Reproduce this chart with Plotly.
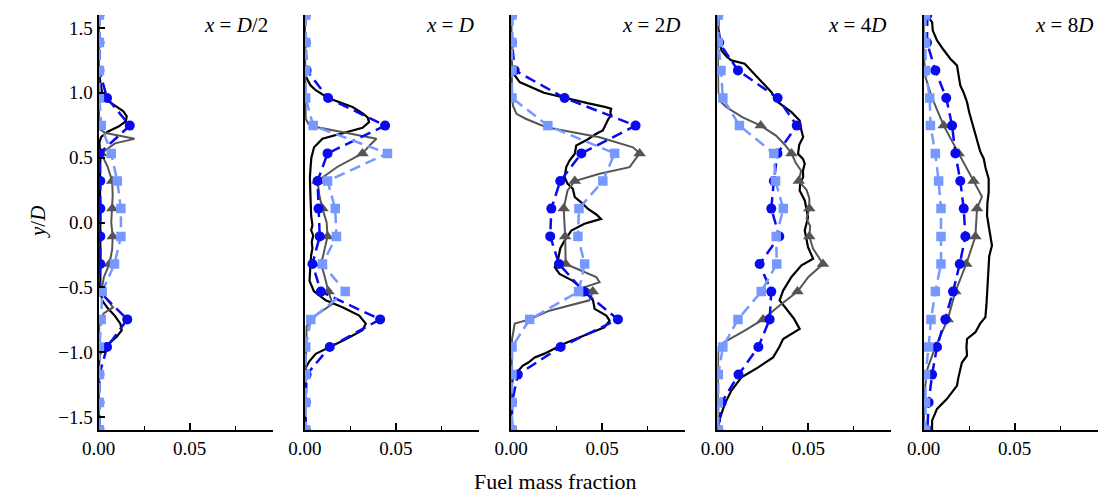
import plotly.graph_objects as go

# ---------------- data ----------------
PANEL_TITLES = ["<i>x</i> = <i>D</i>/2", "<i>x</i> = <i>D</i>", "<i>x</i> = 2<i>D</i>",
                "<i>x</i> = 4<i>D</i>", "<i>x</i> = 8<i>D</i>"]
Y_GRID = [1.6, 1.387, 1.173, 0.96, 0.747, 0.533, 0.32, 0.107, -0.107, -0.32,
          -0.533, -0.747, -0.96, -1.173, -1.387, -1.6]
X_TICKS = [0.0, 0.05]
X_TICK_TEXT = ["0.00", "0.05"]
X_MINOR = [0.025, 0.075]
Y_TICKS = [-1.5, -1.0, -0.5, 0.0, 0.5, 1.0, 1.5]
Y_TICK_TEXT = ["\u22121.5", "\u22121.0", "\u22120.5", "0.0", "0.5", "1.0", "1.5"]

# blue circles (dashed) on Y_GRID
BLUE_1 = [0.0005, 0.0005, 0.0005, 0.0047, 0.0172, 0.0005, 0.001, 0.001, 0.001, 0.001, 0.0005, 0.0158, 0.0047, 0.0005, 0.0005, 0.0005]
BLUE_2 = [0.0005, 0.0005, 0.001, 0.0128, 0.0441, 0.0125, 0.0070, 0.0075, 0.0082, 0.0042, 0.0088, 0.0414, 0.0137, 0.001, 0.0005, 0.0005]
BLUE_3 = [0.0005, 0.0005, 0.002, 0.0294, 0.0684, 0.0386, 0.027, 0.0221, 0.0215, 0.0263, 0.040, 0.0587, 0.0272, 0.0037, 0.0005, 0.0005]
BLUE_4 = [0.0005, 0.001, 0.0113, 0.0331, 0.0436, 0.033, 0.031, 0.0296, 0.034, 0.0232, 0.0296, 0.0287, 0.0225, 0.0116, 0.0024, 0.0005]
BLUE_5 = [0.002, 0.0018, 0.0064, 0.0124, 0.0156, 0.0174, 0.0201, 0.022, 0.0229, 0.0198, 0.0161, 0.0119, 0.0073, 0.0046, 0.0027, 0.002]

# light-blue squares (dashed) on Y_GRID
LIGHT_1 = [0.0005, 0.0005, 0.0005, 0.0005, 0.0015, 0.007, 0.0103, 0.0123, 0.0123, 0.0088, 0.002, 0.0015, 0.0005, 0.0005, 0.0005, 0.0005]
LIGHT_2 = [0.0005, 0.0005, 0.0005, 0.0005, 0.0046, 0.0454, 0.0125, 0.0167, 0.0174, 0.0097, 0.0222, 0.0033, 0.0005, 0.0005, 0.0005, 0.0005]
LIGHT_3 = [0.0005, 0.0005, 0.0005, 0.0005, 0.0202, 0.0569, 0.0504, 0.0373, 0.0367, 0.0404, 0.0371, 0.0102, 0.0005, 0.0005, 0.0005, 0.0005]
LIGHT_4 = [0.0005, 0.0005, 0.002, 0.003, 0.0121, 0.031, 0.0319, 0.0362, 0.0323, 0.0326, 0.0241, 0.0113, 0.003, 0.0005, 0.0005, 0.0005]
LIGHT_5 = [0.001, 0.001, 0.001, 0.0033, 0.0037, 0.0064, 0.0082, 0.0095, 0.0095, 0.0095, 0.0064, 0.004, 0.0027, 0.001, 0.001, 0.001]

# gray line (y, value) and gray triangle markers (y, value)
GRAY_1 = [(1.6, 0), (1.0, 0), (0.72, 0.0005), (0.69, 0.004), (0.665, 0.013), (0.645, 0.0198), (0.61, 0.009),
          (0.533, 0.0015), (0.43, 0.005), (0.32, 0.0075), (0.21, 0.0078), (0.107, 0.0076), (0.0, 0.007),
          (-0.107, 0.0078), (-0.21, 0.0075), (-0.32, 0.006), (-0.42, 0.003), (-0.533, 0.0015), (-0.6, 0.005),
          (-0.655, 0.008), (-0.70, 0.003), (-0.75, 0.0005), (-1.0, 0), (-1.6, 0)]
GRAY_2 = [(1.6, 0), (0.8, 0.0005), (0.76, 0.002), (0.735, 0.007), (0.646, 0.0394), (0.60, 0.036), (0.533, 0.0317),
          (0.43, 0.018), (0.32, 0.007), (0.21, 0.008), (0.107, 0.0097), (0.0, 0.012), (-0.107, 0.0125),
          (-0.21, 0.011), (-0.32, 0.009), (-0.42, 0.011), (-0.533, 0.013), (-0.627, 0.0152), (-0.717, 0.006),
          (-0.8, 0.001), (-1.6, 0)]
GRAY_3 = [(1.6, 0), (1.0, 0.0005), (0.90, 0.001), (0.838, 0.003), (0.80, 0.008), (0.735, 0.0193), (0.658, 0.0486),
          (0.58, 0.067), (0.533, 0.0706), (0.427, 0.0651), (0.376, 0.0486), (0.32, 0.035), (0.247, 0.031),
          (0.107, 0.0289), (-0.107, 0.0297), (-0.32, 0.030), (-0.42, 0.0468), (-0.46, 0.0486), (-0.50, 0.040),
          (-0.533, 0.0449), (-0.60, 0.043), (-0.68, 0.021), (-0.747, 0.0102), (-0.78, 0.002), (-0.9, 0.0005), (-1.6, 0)]
GRAY_4 = [(1.6, 0), (1.0, 0.0005), (0.93, 0.002), (0.89, 0.0048), (0.81, 0.0139), (0.747, 0.0238), (0.67, 0.0322),
          (0.60, 0.037), (0.533, 0.0407), (0.46, 0.043), (0.40, 0.046), (0.32, 0.0447), (0.25, 0.049),
          (0.19, 0.0505), (0.107, 0.0505), (0.03, 0.049), (-0.03, 0.051), (-0.107, 0.0505), (-0.2, 0.0525),
          (-0.32, 0.058), (-0.42, 0.050), (-0.533, 0.044), (-0.65, 0.0333), (-0.747, 0.0251), (-0.833, 0.015),
          (-0.92, 0.004), (-0.96, 0.0005), (-1.6, 0)]
GRAY_5 = [(1.6, 0), (1.3, 0), (1.12, 0.001), (0.96, 0.0046), (0.747, 0.011), (0.533, 0.0192), (0.32, 0.0274),
          (0.2, 0.032), (0.107, 0.0293), (-0.107, 0.0284), (-0.32, 0.0234), (-0.533, 0.0174), (-0.747, 0.0132),
          (-0.96, 0.0064), (-1.13, 0.002), (-1.3, 0.0005), (-1.6, 0)]

GRAY_MK_1 = [(0.533, 0.0015), (0.32, 0.0075), (0.107, 0.0076), (-0.107, 0.0078), (-0.32, 0.006), (-0.533, 0.0015)]
GRAY_MK_2 = [(0.533, 0.0317), (0.32, 0.007), (0.107, 0.0097), (-0.107, 0.0125), (-0.32, 0.009), (-0.533, 0.013)]
GRAY_MK_3 = [(0.533, 0.0706), (0.32, 0.035), (0.107, 0.0289), (-0.107, 0.0297), (-0.32, 0.030), (-0.533, 0.0449)]
GRAY_MK_4 = [(0.747, 0.0238), (0.533, 0.0407), (0.32, 0.0447), (0.107, 0.0505), (-0.107, 0.0505), (-0.32, 0.058),
             (-0.533, 0.044), (-0.747, 0.0251)]
GRAY_MK_5 = [(0.747, 0.011), (0.533, 0.0192), (0.32, 0.0274), (0.107, 0.0293), (-0.107, 0.0284), (-0.32, 0.0234),
             (-0.533, 0.0174), (-0.747, 0.0132), (-0.96, 0.0064)]

# black solid line (y, value)
BLACK_1 = [(1.6, 0), (1.2, 0), (1.08, 0.001), (1.0, 0.002), (0.93, 0.006), (0.86, 0.0135), (0.82, 0.0155),
           (0.78, 0.015), (0.74, 0.011), (0.70, 0.005), (0.66, 0.0015), (0.62, 0.0005), (0.5, 0.001), (0.3, 0.0008),
           (0.0, 0.001), (-0.3, 0.0008), (-0.5, 0.001), (-0.6, 0.002), (-0.66, 0.005), (-0.72, 0.009),
           (-0.78, 0.012), (-0.83, 0.0128), (-0.88, 0.010), (-0.93, 0.006), (-0.98, 0.002), (-1.03, 0.0005),
           (-1.2, 0), (-1.6, 0)]
BLACK_2 = [(1.6, 0), (1.2, 0), (1.12, 0.0008), (1.06, 0.003), (1.02, 0.006), (0.96, 0.0128), (0.89, 0.0262),
           (0.84, 0.032), (0.81, 0.0345), (0.774, 0.0353), (0.73, 0.0317), (0.697, 0.0225), (0.646, 0.0097),
           (0.58, 0.0051), (0.50, 0.0036), (0.45, 0.0033), (0.35, 0.0028), (0.25, 0.003), (0.15, 0.0033),
           (0.05, 0.0035), (-0.02, 0.0042), (-0.06, 0.0035), (-0.1, 0.0046), (-0.15, 0.0038), (-0.2, 0.0042),
           (-0.25, 0.0035), (-0.35, 0.003), (-0.45, 0.0026), (-0.53, 0.005), (-0.60, 0.0115), (-0.653, 0.0207),
           (-0.718, 0.0299), (-0.78, 0.0335), (-0.83, 0.0317), (-0.90, 0.0225), (-0.96, 0.0137), (-1.013, 0.006),
           (-1.07, 0.0025), (-1.12, 0.0005), (-1.2, 0), (-1.6, 0)]
BLACK_3 = [(1.6, 0), (1.25, 0), (1.155, 0.001), (1.083, 0.0047), (1.0, 0.018), (0.96, 0.0294), (0.92, 0.042),
           (0.89, 0.052), (0.877, 0.055), (0.85, 0.0545), (0.826, 0.055), (0.80, 0.0535), (0.77, 0.0525),
           (0.71, 0.0504), (0.684, 0.0468), (0.64, 0.042), (0.594, 0.0358), (0.53, 0.035), (0.478, 0.0321),
           (0.427, 0.0303), (0.35, 0.0294), (0.30, 0.031), (0.26, 0.0339), (0.195, 0.035), (0.15, 0.039),
           (0.106, 0.0421), (0.06, 0.047), (0.028, 0.0494), (-0.01, 0.0403), (-0.062, 0.0331), (-0.139, 0.0294),
           (-0.2, 0.027), (-0.293, 0.0257), (-0.345, 0.024), (-0.396, 0.0266), (-0.45, 0.034), (-0.525, 0.0403),
           (-0.60, 0.045), (-0.666, 0.0459), (-0.718, 0.0523), (-0.756, 0.0541), (-0.808, 0.0513),
           (-0.859, 0.0421), (-0.93, 0.030), (-1.013, 0.018), (-1.04, 0.013), (-1.08, 0.0095), (-1.103, 0.0065),
           (-1.19, 0.001), (-1.3, 0), (-1.6, 0)]
BLACK_4 = [(1.6, 0), (1.5, 0.0005), (1.40, 0.0015), (1.327, 0.0022), (1.28, 0.005), (1.25, 0.0077), (1.224, 0.015),
           (1.18, 0.018), (1.121, 0.0224), (1.06, 0.026), (1.005, 0.0297), (0.928, 0.0333), (0.851, 0.0407),
           (0.787, 0.0452), (0.72, 0.046), (0.658, 0.0471), (0.60, 0.045), (0.53, 0.0443), (0.49, 0.047),
           (0.453, 0.048), (0.40, 0.047), (0.35, 0.0471), (0.30, 0.0455), (0.247, 0.0452), (0.17, 0.048),
           (0.10, 0.049), (0.04, 0.0498), (-0.062, 0.048), (-0.12, 0.049), (-0.19, 0.0498), (-0.28, 0.0526),
           (-0.33, 0.0462), (-0.42, 0.0407), (-0.525, 0.0361), (-0.60, 0.0342), (-0.653, 0.037), (-0.74, 0.042),
           (-0.82, 0.0452), (-0.898, 0.0361), (-0.96, 0.034), (-1.04, 0.0306), (-1.117, 0.0224),
           (-1.194, 0.0132), (-1.296, 0.0077), (-1.40, 0.004), (-1.515, 0.0013), (-1.6, 0)]
BLACK_5 = [(1.6, 0.0015), (1.545, 0.0046), (1.48, 0.005), (1.404, 0.0073), (1.33, 0.011), (1.263, 0.0146),
           (1.211, 0.0183), (1.15, 0.019), (1.057, 0.0201), (1.0, 0.022), (0.928, 0.0238), (0.85, 0.025),
           (0.774, 0.0265), (0.70, 0.028), (0.62, 0.0293), (0.55, 0.031), (0.492, 0.033), (0.42, 0.034),
           (0.337, 0.0357), (0.234, 0.0357), (0.15, 0.035), (0.054, 0.0348), (-0.05, 0.036), (-0.177, 0.0375),
           (-0.26, 0.036), (-0.357, 0.0357), (-0.45, 0.0352), (-0.537, 0.0348), (-0.63, 0.0345), (-0.73, 0.0339),
           (-0.78, 0.031), (-0.846, 0.0284), (-0.898, 0.0238), (-0.96, 0.0235), (-1.026, 0.0238), (-1.08, 0.021),
           (-1.129, 0.0201), (-1.2, 0.019), (-1.258, 0.0183), (-1.36, 0.0128), (-1.437, 0.0073),
           (-1.528, 0.0046), (-1.6, 0.0046)]

BLUE = [BLUE_1, BLUE_2, BLUE_3, BLUE_4, BLUE_5]
LIGHT = [LIGHT_1, LIGHT_2, LIGHT_3, LIGHT_4, LIGHT_5]
GRAY = [GRAY_1, GRAY_2, GRAY_3, GRAY_4, GRAY_5]
GRAY_MK = [GRAY_MK_1, GRAY_MK_2, GRAY_MK_3, GRAY_MK_4, GRAY_MK_5]
BLACK = [BLACK_1, BLACK_2, BLACK_3, BLACK_4, BLACK_5]

# ---------------- style ----------------
W, H = 1106, 493
LEFT, PW, STEP = 98.5, 174, 206.3
TOP_PX, BOT_PX = 15, 430
FONT = "Liberation Serif"
C_BLACK = "#000000"
C_GRAY = "#555555"
C_BLUE = "#0a0aee"
C_LIGHT = "#7799ff"
DASH = "11px,6px"

fig = go.Figure()


def unzip(pairs):
    return [p[1] for p in pairs], [p[0] for p in pairs]


for i in range(5):
    xa = "x" if i == 0 else f"x{i+1}"
    ya = "y" if i == 0 else f"y{i+1}"
    bx, by = unzip(BLACK[i])
    fig.add_trace(go.Scatter(x=bx, y=by, mode="lines", line=dict(color=C_BLACK, width=2.2),
                             xaxis=xa, yaxis=ya, showlegend=False))
    gx, gy = unzip(GRAY[i])
    fig.add_trace(go.Scatter(x=gx, y=gy, mode="lines", line=dict(color=C_GRAY, width=2),
                             xaxis=xa, yaxis=ya, showlegend=False))
    mx, my = unzip(GRAY_MK[i])
    fig.add_trace(go.Scatter(x=mx, y=my, mode="markers",
                             marker=dict(symbol="triangle-up", size=11, color=C_GRAY),
                             xaxis=xa, yaxis=ya, showlegend=False))
    fig.add_trace(go.Scatter(x=BLUE[i], y=Y_GRID, mode="lines+markers",
                             line=dict(color=C_BLUE, width=2.5, dash=DASH),
                             marker=dict(symbol="circle", size=10, color=C_BLUE),
                             xaxis=xa, yaxis=ya, showlegend=False))
    fig.add_trace(go.Scatter(x=LIGHT[i], y=Y_GRID, mode="lines+markers",
                             line=dict(color=C_LIGHT, width=2.5, dash=DASH),
                             marker=dict(symbol="square", size=9.5, color=C_LIGHT),
                             xaxis=xa, yaxis=ya, showlegend=False))

layout = dict(
    width=W, height=H,
    margin=dict(l=0, r=0, t=0, b=0, autoexpand=False),
    paper_bgcolor="white", plot_bgcolor="white",
    font=dict(family=FONT, size=19, color="black"),
    annotations=[],
)

y_dom = [(H - BOT_PX) / H, (H - TOP_PX) / H]
for i in range(5):
    x0 = (LEFT + i * STEP) / W
    x1 = (LEFT + i * STEP + PW) / W
    xkey = "xaxis" if i == 0 else f"xaxis{i+1}"
    ykey = "yaxis" if i == 0 else f"yaxis{i+1}"
    ya = "y" if i == 0 else f"y{i+1}"
    xa = "x" if i == 0 else f"x{i+1}"
    layout[xkey] = dict(
        domain=[x0, x1], anchor=ya, range=[0, 0.0956], automargin=False,
        showline=True, linecolor="black", linewidth=2, showgrid=False, zeroline=False,
        tickmode="array", tickvals=X_TICKS, ticktext=X_TICK_TEXT,
        ticks="inside", ticklen=7, tickwidth=1.5, tickcolor="black",
        tickfont=dict(family=FONT, size=19),
        minor=dict(tickmode="array", tickvals=X_MINOR, ticks="inside", ticklen=4,
                   tickwidth=1.2, tickcolor="black", showgrid=False),
    )
    yd = dict(
        domain=y_dom, anchor=xa, range=[-1.6, 1.6], automargin=False,
        showline=True, linecolor="black", linewidth=2, showgrid=False, zeroline=False,
    )
    if i == 0:
        yd.update(tickmode="array", tickvals=Y_TICKS, ticktext=Y_TICK_TEXT,
                  ticks="inside", ticklen=6, tickwidth=1.5, tickcolor="black",
                  tickfont=dict(family=FONT, size=19))
    else:
        yd.update(matches="y", showticklabels=False, ticks="")
    layout[ykey] = yd
    layout["annotations"].append(dict(
        text=PANEL_TITLES[i], xref="paper", yref="paper",
        x=x1 - 3 / W, y=(H - 25) / H, xanchor="right", yanchor="middle",
        showarrow=False, font=dict(family=FONT, size=21)))

layout["annotations"].append(dict(
    text="<i>y</i>/<i>D</i>", xref="paper", yref="paper", x=38 / W, y=(H - 222) / H,
    xanchor="center", yanchor="middle", textangle=-90, showarrow=False,
    font=dict(family=FONT, size=21)))
layout["annotations"].append(dict(
    text="Fuel mass fraction", xref="paper", yref="paper", x=555 / W, y=(H - 481) / H,
    xanchor="center", yanchor="middle", showarrow=False, font=dict(family=FONT, size=22)))

fig.update_layout(**layout)
fig.write_html("out.html", config={"displayModeBar": False},
               post_script="document.body.style.margin='0';document.body.style.overflow='hidden';")
